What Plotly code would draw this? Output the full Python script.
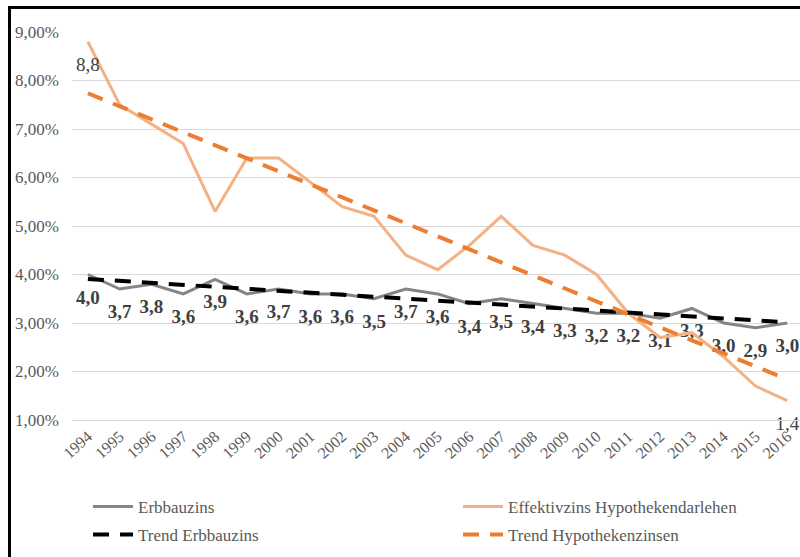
import numpy as np
import plotly.graph_objects as go

# Jahre und Zinssätze (in Prozent)
years = [str(y) for y in range(1994, 2017)]
erbbauzins = [4.0, 3.7, 3.8, 3.6, 3.9, 3.6, 3.7, 3.6, 3.6, 3.5, 3.7, 3.6,
              3.4, 3.5, 3.4, 3.3, 3.2, 3.2, 3.1, 3.3, 3.0, 2.9, 3.0]
hypothekenzins = [8.8, 7.5, 7.1, 6.7, 5.3, 6.4, 6.4, 5.9, 5.4, 5.2, 4.4, 4.1,
                  4.6, 5.2, 4.6, 4.4, 4.0, 3.2, 2.7, 2.8, 2.3, 1.7, 1.4]

y_ticks = [1, 2, 3, 4, 5, 6, 7, 8, 9]
y_ticktext = [f"{v:.2f}".replace(".", ",") + "%" for v in y_ticks]


def fmt(v):
    return f"{v:.1f}".replace(".", ",")


def linear_trend(values):
    idx = np.arange(len(values))
    slope, intercept = np.polyfit(idx, values, 1)
    return list(intercept + slope * idx)


trend_erb = linear_trend(erbbauzins)
trend_hyp = linear_trend(hypothekenzins)

SERIF = "Liberation Serif"
GRAY_TEXT = "#595959"

# Beschriftungen: Erbbauzins an jedem Punkt, Hypothekenzins nur Anfang und Ende
erb_labels = [fmt(v) for v in erbbauzins]
hyp_labels = [fmt(v) if i in (0, len(hypothekenzins) - 1) else ""
              for i, v in enumerate(hypothekenzins)]

fig = go.Figure()

fig.add_trace(go.Scatter(
    x=years, y=erbbauzins, name="Erbbauzins",
    mode="lines+markers+text",
    line=dict(color="#858585", width=3),
    marker=dict(size=22, color="rgba(0,0,0,0)"),
    text=erb_labels, textposition="bottom center",
    textfont=dict(family=SERIF, size=19, color="#404040", weight="bold"),
    cliponaxis=False,
    legend="legend",
))
fig.add_trace(go.Scatter(
    x=years, y=hypothekenzins, name="Effektivzins Hypothekendarlehen",
    mode="lines+markers+text",
    line=dict(color="#f4b183", width=3),
    marker=dict(size=22, color="rgba(0,0,0,0)"),
    text=hyp_labels, textposition="bottom center",
    textfont=dict(family=SERIF, size=19, color="#404040"),
    cliponaxis=False,
    legend="legend2",
))
fig.add_trace(go.Scatter(
    x=years, y=trend_erb, name="Trend Erbbauzins",
    mode="lines",
    line=dict(color="#000000", width=4, dash="16px,11px"),
    legend="legend3",
))
fig.add_trace(go.Scatter(
    x=years, y=trend_hyp, name="Trend Hypothekenzinsen",
    mode="lines",
    line=dict(color="#ed7d31", width=4, dash="16px,11px"),
    legend="legend4",
))

L, T = 72, 32
W, H = 800, 557
B = H - 420
plot_w = W - L
plot_h = H - T - B


def px_x(px):
    return (px - L) / plot_w


def px_y(py):
    return (H - B - py) / plot_h


legend_common = dict(
    orientation="h", xanchor="left", yanchor="middle",
    font=dict(family=SERIF, size=17, color=GRAY_TEXT),
    bgcolor="rgba(0,0,0,0)", itemwidth=40,
)

fig.update_layout(
    width=W, height=H,
    margin=dict(l=L, r=0, t=T, b=B),
    paper_bgcolor="white", plot_bgcolor="white",
    showlegend=True,
    font=dict(family=SERIF, color=GRAY_TEXT),
    xaxis=dict(
        type="category", range=[-0.5, 22.4],
        showgrid=False, showline=True, linecolor="#d9d9d9", linewidth=1,
        ticks="", tickangle=-42,
        tickfont=dict(family=SERIF, size=16, color=GRAY_TEXT),
    ),
    yaxis=dict(
        range=[1, 9], tickvals=y_ticks, ticktext=y_ticktext,
        showgrid=True, gridcolor="#d9d9d9", gridwidth=1,
        zeroline=False, showline=False, ticks="",
        ticklabelstandoff=12,
        tickfont=dict(family=SERIF, size=17, color=GRAY_TEXT),
    ),
    legend=dict(x=px_x(88), y=px_y(507), **legend_common),
    legend2=dict(x=px_x(458), y=px_y(507), **legend_common),
    legend3=dict(x=px_x(88), y=px_y(535), **legend_common),
    legend4=dict(x=px_x(458), y=px_y(535), **legend_common),
    shapes=[
        # Rahmen links und oben
        dict(type="line", xref="paper", yref="paper",
             x0=px_x(9.5), x1=px_x(9.5), y0=px_y(6), y1=px_y(H + 5),
             line=dict(color="black", width=3)),
        dict(type="line", xref="paper", yref="paper",
             x0=px_x(8), x1=px_x(W + 5), y0=px_y(7.5), y1=px_y(7.5),
             line=dict(color="black", width=3)),
    ],
)

fig.write_html("out.html")
